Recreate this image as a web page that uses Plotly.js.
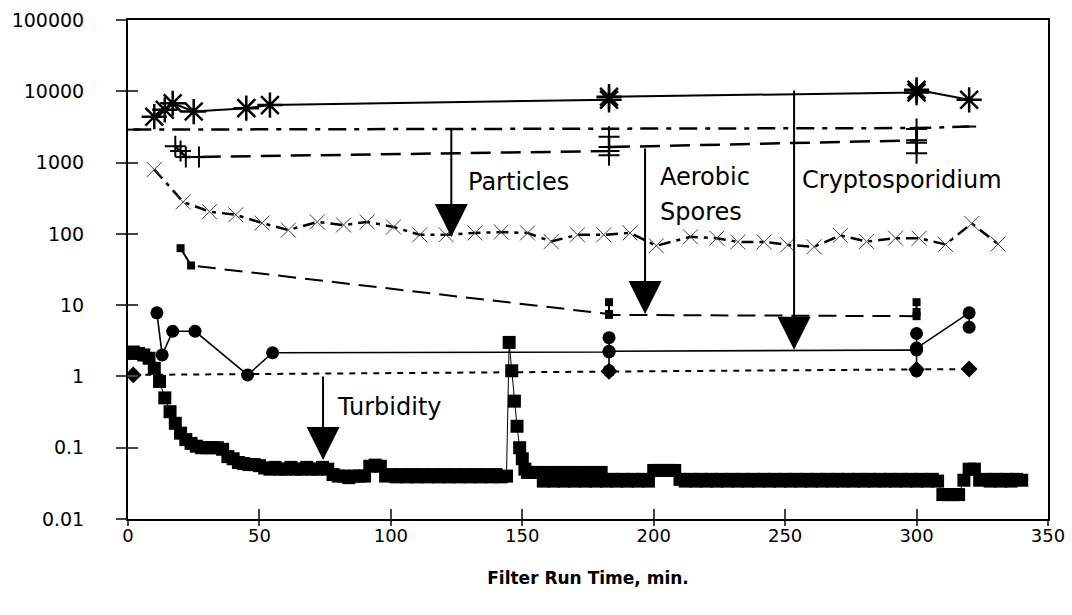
<!DOCTYPE html>
<html><head><meta charset="utf-8">
<script src="https://cdn.plot.ly/plotly-3.0.1.min.js"></script>
<style>html,body{margin:0;padding:0;background:#fff}#chart{width:1072px;height:615px}</style>
</head><body><div id="chart"></div>
<script>
// ---- axis ticks ----
const xTickVals = [0, 50, 100, 150, 200, 250, 300, 350];
const yTickVals = [0.01, 0.1, 1, 10, 100, 1000, 10000, 100000];
const yTickText = ["0.01", "0.1", "1", "10", "100", "1000", "10000", "100000"];

// ---- influent Cryptosporidium (asterisks) ----
const cryptoInT = [10, 14, 17, 25, 45, 54, 183, 183, 300, 300, 320];
const cryptoInV = [4400, 5500, 6800, 5200, 5800, 6400, 7600, 8400, 9600, 10500, 7600];

// ---- influent particles (dash-dot) ----
const partInT = [2, 183, 300, 320];
const partInV = [2900, 2950, 3050, 3200];

// ---- influent aerobic spores (plus) ----
const sporeInT = [18, 20, 22, 27, 183, 183, 183, 183, 300, 300, 300, 300];
const sporeInV = [1700, 1450, 1200, 1200, 1450, 2300, 1270, 1650, 2050, 2950, 1350, 1900];

// ---- effluent particles (x) ----
const partOutT = [10, 21, 31, 41, 51, 61, 72, 82, 91, 101, 111, 121, 132, 142, 152, 161, 171, 181, 191, 201, 214, 224, 232, 242, 251, 261, 271, 281, 292, 301, 311, 321, 331];
const partOutV = [800, 280, 205, 185, 142, 113, 147, 133, 147, 125, 97, 97, 103, 106, 103, 78, 97, 97, 103, 68, 91, 87, 77, 77, 70, 66, 95, 78, 87, 87, 71, 140, 72];

// ---- effluent aerobic spores ----
const sporeOutT = [20, 24, 183, 183, 183, 300, 300, 300];
const sporeOutV = [63, 36, 7.5, 11, 7.3, 7.0, 11, 8];

// ---- effluent Cryptosporidium (circles) ----
const cryptoOutT = [11, 13, 17, 25.5, 45.5, 55, 183, 183, 183, 183, 300, 300, 300, 300, 320, 320];
const cryptoOutV = [7.8, 2.0, 4.3, 4.3, 1.05, 2.15, 2.2, 3.5, 1.2, 2.25, 2.35, 1.2, 4.0, 2.5, 7.8, 4.9];

// ---- influent turbidity (diamonds) ----
const turbInT = [2, 183, 300, 320];
const turbInV = [1.05, 1.18, 1.25, 1.27];

// ---- effluent turbidity (squares) ----
const turbOutT = [0, 2, 4, 6, 8, 10, 12, 14, 16, 18, 20, 22, 24, 26, 28, 30, 32, 34, 36, 38,
  40, 42, 44, 46, 48, 50, 52, 54, 56, 58, 60, 62, 64, 66, 68, 70, 72, 74, 76, 78,
  80, 82, 84, 86, 88, 90, 92, 94, 96, 98, 100, 102, 104, 106, 108, 110, 112, 114, 116, 118,
  120, 122, 124, 126, 128, 130, 132, 134, 136, 138, 140, 142, 144, 145, 146, 147, 148, 149, 150, 151,
  152, 154, 156, 158, 160, 162, 164, 166, 168, 170, 172, 174, 176, 178, 180, 182, 184, 186, 188, 190,
  192, 194, 196, 198, 200, 202, 204, 206, 208, 210, 212, 214, 216, 218, 220, 222, 224, 226, 228, 230,
  232, 234, 236, 238, 240, 242, 244, 246, 248, 250, 252, 254, 256, 258, 260, 262, 264, 266, 268, 270,
  272, 274, 276, 278, 280, 282, 284, 286, 288, 290, 292, 294, 296, 298, 300, 302, 304, 306, 308, 310,
  312, 314, 316, 318, 320, 322, 324, 326, 328, 330, 332, 334, 336, 338, 340];
const turbOutV = [2.1, 2.2, 2.1, 2.0, 1.8, 1.3, 0.85, 0.5, 0.32, 0.22, 0.16, 0.13, 0.115, 0.105, 0.1, 0.1, 0.1, 0.1, 0.095, 0.075,
  0.07, 0.062, 0.06, 0.058, 0.058, 0.056, 0.052, 0.05, 0.053, 0.05, 0.05, 0.053, 0.05, 0.05, 0.053, 0.05, 0.05, 0.053, 0.05, 0.042,
  0.04, 0.04, 0.038, 0.04, 0.04, 0.04, 0.055, 0.057, 0.055, 0.04, 0.042, 0.039, 0.042, 0.039, 0.042, 0.039, 0.042, 0.039, 0.042, 0.039,
  0.042, 0.039, 0.042, 0.039, 0.042, 0.039, 0.042, 0.039, 0.042, 0.039, 0.042, 0.039, 0.04, 3.0, 1.2, 0.45, 0.2, 0.1, 0.07, 0.05,
  0.045, 0.045, 0.045, 0.034, 0.045, 0.034, 0.045, 0.034, 0.045, 0.034, 0.045, 0.034, 0.045, 0.034, 0.045, 0.034, 0.036, 0.034, 0.036, 0.034,
  0.036, 0.034, 0.036, 0.034, 0.048, 0.048, 0.048, 0.048, 0.048, 0.036, 0.034, 0.036, 0.034, 0.036, 0.034, 0.036, 0.034, 0.036, 0.034, 0.036,
  0.034, 0.036, 0.034, 0.036, 0.034, 0.036, 0.034, 0.036, 0.034, 0.036, 0.034, 0.036, 0.034, 0.036, 0.034, 0.036, 0.034, 0.036, 0.034, 0.036,
  0.034, 0.036, 0.034, 0.036, 0.034, 0.036, 0.034, 0.036, 0.034, 0.036, 0.034, 0.036, 0.034, 0.036, 0.034, 0.036, 0.034, 0.036, 0.034, 0.022,
  0.022, 0.022, 0.022, 0.035, 0.05, 0.05, 0.035, 0.036, 0.034, 0.036, 0.034, 0.036, 0.034, 0.036, 0.035];

const FONT = "DejaVu Sans";

const traces = [
  {x: turbOutT, y: turbOutV, mode: "lines+markers", line: {color: "#000", width: 1},
   marker: {symbol: "square", size: 13, color: "#000"}},
  {x: turbInT, y: turbInV, mode: "lines+markers", line: {color: "#000", width: 2, dash: "6px,6px"},
   marker: {symbol: "diamond", size: 13, color: "#000"}},
  {x: cryptoOutT, y: cryptoOutV, mode: "lines+markers", line: {color: "#000", width: 1.6},
   marker: {symbol: "circle", size: 13, color: "#000"}},
  {x: sporeOutT, y: sporeOutV, mode: "lines+markers", line: {color: "#000", width: 2, dash: "18px,9px"},
   marker: {symbol: "square", size: 8, color: "#000"}},
  {x: partOutT, y: partOutV, mode: "lines+markers", line: {color: "#000", width: 2.5, dash: "12px,6px,4px,6px"},
   marker: {symbol: "x-thin-open", size: 15, color: "#444", line: {width: 1, color: "#444"}}},
  {x: sporeInT, y: sporeInV, mode: "lines+markers", line: {color: "#000", width: 2.5, dash: "20px,10px"},
   marker: {symbol: "cross-thin-open", size: 15, color: "#000", line: {width: 2, color: "#000"}}},
  {x: partInT, y: partInV, mode: "lines+markers", line: {color: "#000", width: 2.5, dash: "18px,8px,5px,8px"},
   marker: {symbol: "line-ew-open", size: 10, color: "#000", line: {width: 2, color: "#000"}}},
  {x: cryptoInT, y: cryptoInV, mode: "lines+markers", line: {color: "#000", width: 2},
   marker: {symbol: "asterisk-open", size: 21, color: "#000", line: {width: 2.5, color: "#000"}}},
  {x: [], y: [], xaxis: "x2", yaxis: "y2", mode: "markers"}
];

function arrow(x, tipV, tailV) {
  return {x: x, y: Math.log10(tipV), ax: x, ay: Math.log10(tailV), axref: "x", ayref: "y",
    xref: "x", yref: "y", text: "", showarrow: true, arrowhead: 2, arrowsize: 3.3, arrowwidth: 2,
    arrowcolor: "#000", standoff: 0};
}
function label(text, x, v, anchor) {
  return {x: x, y: Math.log10(v), xref: "x", yref: "y", text: text, showarrow: false,
    xanchor: anchor, yanchor: "middle", font: {family: FONT, size: 24, color: "#000"}};
}

const layout = {
  width: 1072, height: 615,
  margin: {l: 128, r: 24, t: 20, b: 96},
  paper_bgcolor: "#fff", plot_bgcolor: "#fff",
  showlegend: false,
  xaxis: {range: [0, 350], tickvals: xTickVals, ticks: "outside", ticklen: 5, tickwidth: 2,
    showline: true, linewidth: 2, linecolor: "#000", mirror: true, showgrid: false, zeroline: false,
    ticklabelstandoff: -6,
    tickfont: {family: FONT, size: 18, color: "#000"},
    title: {text: "Filter Run Time, min.", font: {family: FONT, size: 17, color: "#000", weight: "bold"}, standoff: 28}},
  yaxis: {type: "log", range: [-2, 5], tickvals: yTickVals, ticktext: yTickText, ticks: "outside",
    ticklen: 10, tickwidth: 2, showline: true, linewidth: 2, linecolor: "#000", mirror: true,
    showgrid: false, zeroline: false, ticklabelstandoff: 28,
    tickfont: {family: FONT, size: 19, color: "#000"}},
  xaxis2: {overlaying: "x", anchor: "y2", range: [0, 350], tickvals: xTickVals, ticks: "inside",
    ticklen: 10, tickwidth: 2, showticklabels: false, showline: false, showgrid: false, zeroline: false},
  yaxis2: {overlaying: "y", anchor: "x2", type: "log", range: [-2, 5], tickvals: yTickVals, ticks: "inside",
    ticklen: 10, tickwidth: 2, showticklabels: false, showline: false, showgrid: false, zeroline: false},
  annotations: [
    arrow(123, 90, 3055),
    arrow(196.7, 7.5, 1656),
    arrow(253.4, 2.36, 10770),
    arrow(74.2, 0.0675, 1.05),
    label("Particles", 148.7, 535, "center"),
    label("Aerobic", 201.6, 628, "left"),
    label("Spores", 201.6, 203, "left"),
    label("Cryptosporidium", 255.6, 570, "left"),
    label("Turbidity", 78.7, 0.373, "left")
  ]
};

Plotly.newPlot("chart", traces, layout, {staticPlot: true, displayModeBar: false});
</script>
</body></html>
